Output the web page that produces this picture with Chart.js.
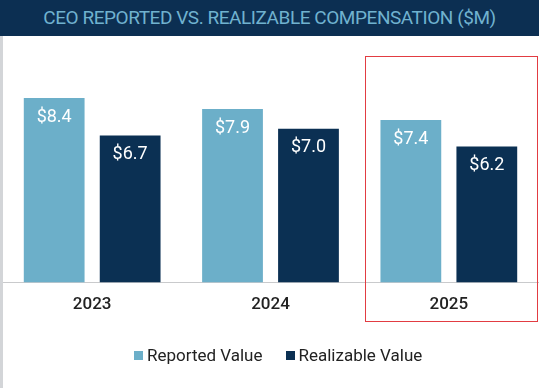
<!DOCTYPE html>
<html lang="en">
<head>
<meta charset="UTF-8">
<title>CEO Reported vs. Realizable Compensation</title>
<script src="https://cdn.jsdelivr.net/npm/chart.js"></script>
<style>
	html, body { margin: 0; padding: 0; background: #fff; }
	body { width: 542px; height: 388px; overflow: hidden; position: relative; }
	.borda { position: absolute; left: 0; top: 36px; width: 3px; height: 352px; background: #d3d5d8; }
	.titulo {
		position: absolute; left: 0; top: 0; width: 539px; height: 36px;
		background: #0c2f52; color: #70b2cf;
		font-family: Roboto, sans-serif; font-size: 19px; line-height: 36px;
		letter-spacing: -0.45px; text-align: center;
	}
	.grafico { position: absolute; left: 3px; top: 36px; width: 539px; height: 352px; }
	.legenda {
		position: absolute; left: 134px; top: 344px; height: 22px;
		display: flex; gap: 23px; align-items: center;
		font-family: Roboto, sans-serif; font-size: 17px; color: #222;
	}
	.legenda span { display: flex; align-items: center; gap: 4px; }
	.legenda i { display: inline-block; width: 9px; height: 9px; }
</style>
</head>
<body>
	<div class="titulo">CEO REPORTED VS. REALIZABLE COMPENSATION ($M)</div>
	<div class="borda"></div>
	<div class="grafico"><canvas id="grafico"></canvas></div>
	<div class="legenda" id="legenda"></div>
	<script>
		var anos = ['2023', '2024', '2025'];
		var series = ['Reported Value', 'Realizable Value'];
		var reportado = [8.4, 7.9, 7.4];
		var realizavel = [6.7, 7.0, 6.2];
		var cores = ['#6cafc9', '#0b3053'];
		var destaque = '2025';

		// escreve o valor dentro de cada barra
		var rotulos = {
			id: 'rotulos',
			afterDatasetsDraw(chart) {
				var ctx = chart.ctx;
				ctx.save();
				ctx.font = '18px Roboto, sans-serif';
				ctx.fillStyle = '#ffffff';
				ctx.textAlign = 'center';
				ctx.textBaseline = 'middle';
				chart.data.datasets.forEach(function (ds, i) {
					chart.getDatasetMeta(i).data.forEach(function (bar, j) {
						ctx.fillText('$' + ds.data[j].toFixed(1), bar.x, bar.y + 19);
					});
				});
				ctx.restore();
			}
		};

		// caixa vermelha em volta do ano destacado (linhas de 1px)
		var caixa = {
			id: 'caixa',
			afterDraw(chart) {
				var x = chart.scales.x, y = chart.scales.y;
				var idx = anos.indexOf(destaque);
				var meio = x.getPixelForValue(idx);
				var larg = (x.right - x.left) / anos.length;
				var esq = Math.round(meio - larg / 2 + 5);
				var dir = Math.round(x.right) - 1;
				var topo = Math.round(y.getPixelForValue(10.3));
				var baixo = Math.round(x.top + 38);
				var ctx = chart.ctx;
				ctx.save();
				ctx.fillStyle = '#e23c42';
				ctx.fillRect(esq, topo, dir - esq + 1, 1);
				ctx.fillRect(esq, baixo, dir - esq + 1, 1);
				ctx.fillRect(esq, topo, 1, baixo - topo + 1);
				ctx.fillRect(dir, topo, 1, baixo - topo + 1);
				ctx.restore();
			}
		};

		var grafico = new Chart(document.getElementById('grafico'), {
			type: 'bar',
			data: {
				labels: anos,
				datasets: [{
					label: series[0],
					data: reportado,
					backgroundColor: cores[0]
				}, {
					label: series[1],
					data: realizavel,
					backgroundColor: cores[1]
				}]
			},
			options: {
				responsive: true,
				maintainAspectRatio: false,
				animation: false,
				layout: { padding: { top: 5, left: 0, right: 4, bottom: 61 } },
				datasets: { bar: { categoryPercentage: 0.852, barPercentage: 0.8 } },
				scales: {
					x: {
						grid: { display: false, drawTicks: false },
						border: { color: '#c9cacc', width: 1 },
						ticks: {
							color: '#222222',
							padding: 12,
							font: { family: 'Roboto', size: 17, weight: '500' }
						}
					},
					y: { display: false, min: 0, max: 11 }
				},
				plugins: {
					legend: { display: false },
					tooltip: { enabled: false }
				}
			},
			plugins: [rotulos, caixa]
		});

		// legenda em html, a partir dos datasets
		var legenda = document.getElementById('legenda');
		grafico.data.datasets.forEach(function (ds) {
			var item = document.createElement('span');
			item.innerHTML = '<i style="background:' + ds.backgroundColor + '"></i>' + ds.label;
			legenda.appendChild(item);
		});
	</script>
</body>
</html>
